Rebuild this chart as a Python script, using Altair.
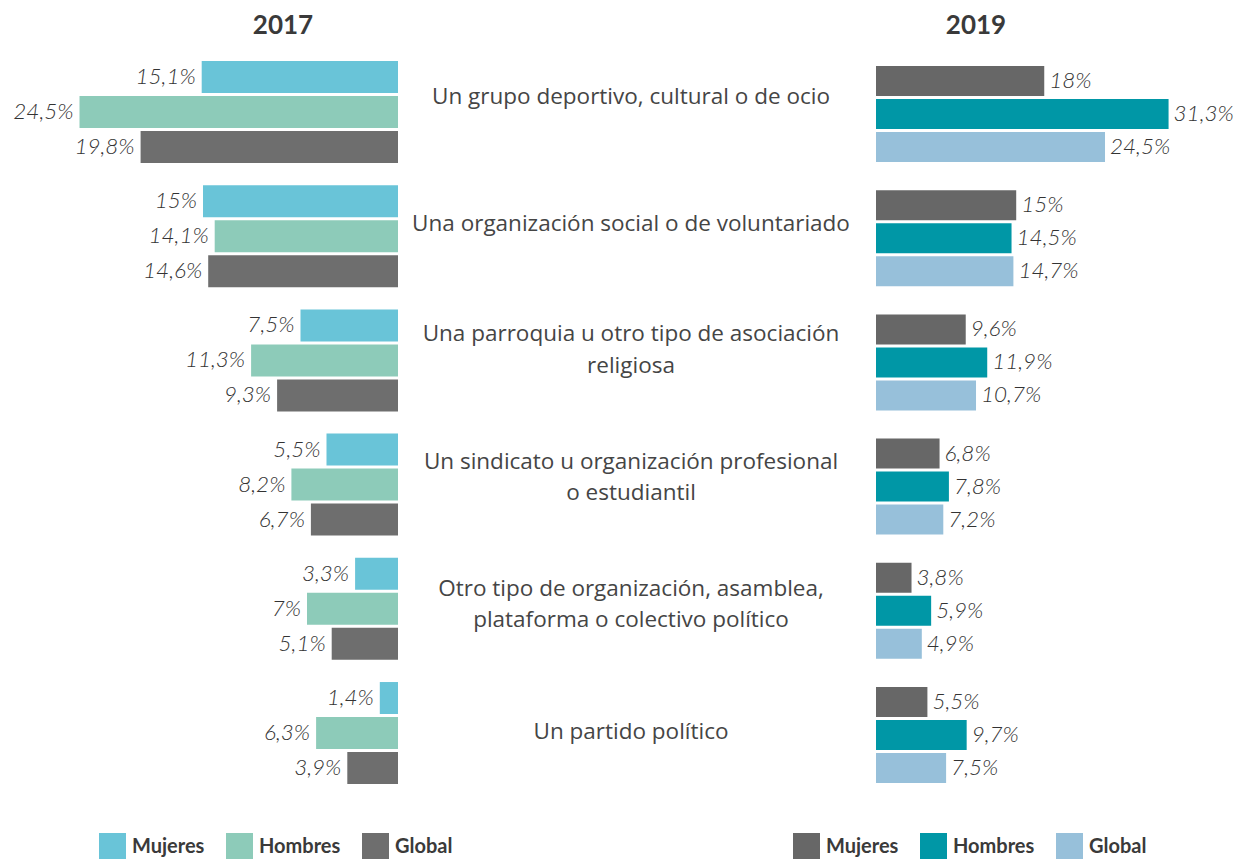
import altair as alt
import pandas as pd

categories = [
    "Un grupo deportivo, cultural o de ocio",
    "Una organización social o de voluntariado",
    "Una parroquia u otro tipo de asociación|religiosa",
    "Un sindicato u organización profesional|o estudiantil",
    "Otro tipo de organización, asamblea,|plataforma o colectivo político",
    "Un partido político",
]
series = ["Mujeres", "Hombres", "Global"]

y2017_mujeres = [15.1, 15.0, 7.5, 5.5, 3.3, 1.4]
y2017_hombres = [24.5, 14.1, 11.3, 8.2, 7.0, 6.3]
y2017_global = [19.8, 14.6, 9.3, 6.7, 5.1, 3.9]

y2019_mujeres = [18.0, 15.0, 9.6, 6.8, 3.8, 5.5]
y2019_hombres = [31.3, 14.5, 11.9, 7.8, 5.9, 9.7]
y2019_global = [24.5, 14.7, 10.7, 7.2, 4.9, 7.5]

colors_2017 = ["#69C4D8", "#8DCBB9", "#6E6E6E"]
colors_2019 = ["#676767", "#0097A6", "#97C0DA"]


def fmt(v):
    return f"{v:g}".replace(".", ",") + "%"


def build(m, h, g):
    rows = []
    for i, c in enumerate(categories):
        for s, vals in zip(series, [m, h, g]):
            rows.append({"cat": c, "series": s, "value": vals[i], "label": fmt(vals[i])})
    return pd.DataFrame(rows)


df17 = build(y2017_mujeres, y2017_hombres, y2017_global)
df19 = build(y2019_mujeres, y2019_hombres, y2019_global)
dfc = pd.DataFrame({"cat": categories})

FONT = "Lato"
CAT_FONT = "Open Sans"
H = 763

title_kw = dict(fontSize=26, fontWeight="bold", font=FONT, color="#3a3a3a", anchor="middle", offset=2)


def legend(x, y):
    return alt.Legend(
        orient="none", legendX=x, legendY=y, direction="horizontal", title=None,
        symbolType="square", symbolSize=729, symbolStrokeWidth=0,
        labelFont=FONT, labelFontSize=20, labelFontWeight="bold", labelColor="#3a3a3a",
        labelOffset=6, columnPadding=21, padding=0,
    )


val_kw = dict(baseline="middle", font=FONT, fontSize=22.5, fontStyle="italic", fontWeight=300, color="#333333")

# Left panel (2017)
y_l = alt.Y("cat:N", sort=categories, axis=None, scale=alt.Scale(paddingInner=0.179, paddingOuter=0.161))
yo_l = alt.YOffset("series:N", sort=series, scale=alt.Scale(paddingInner=0.086, paddingOuter=0))
x_l = alt.X("value:Q", axis=None, scale=alt.Scale(domain=[0, 30], reverse=True, nice=False))
base_l = alt.Chart(df17)
bars_l = base_l.mark_bar().encode(
    x=x_l, y=y_l, yOffset=yo_l,
    color=alt.Color("series:N", sort=series, scale=alt.Scale(domain=series, range=colors_2017),
                    legend=legend(91, 792)),
)
text_l = base_l.mark_text(align="right", dx=-6, **val_kw).encode(
    x=x_l, y=y_l, yOffset=yo_l, text="label:N")
left = (bars_l + text_l).properties(width=390, height=H,
                                    title=alt.TitleParams("2017", dx=80, **title_kw))

# Middle panel (labels)
y_m = alt.Y("cat:N", sort=categories, axis=None, scale=alt.Scale(paddingInner=0.179, paddingOuter=0.161))
cat_kw = dict(align="center", baseline="middle", font=CAT_FONT, fontSize=22.5, color="#454545",
              lineHeight=31.5, dx=-6)
base_m = alt.Chart(dfc).transform_calculate(
    lines="split(datum.cat, '|')", nlines="length(split(datum.cat, '|'))")
one_line = base_m.transform_filter("datum.nlines == 1").mark_text(dy=-8, **cat_kw).encode(
    y=y_m, text="lines:N")
two_lines = base_m.transform_filter("datum.nlines == 2").mark_text(dy=-24.5, **cat_kw).encode(
    y=y_m, text="lines:N")
mid = (one_line + two_lines).properties(width=478, height=H, title=alt.TitleParams(" ", **title_kw))

# Right panel (2019)
H_R = 767
y_r = alt.Y("cat:N", sort=categories, axis=None, scale=alt.Scale(paddingInner=0.227, paddingOuter=0.201))
yo_r = alt.YOffset("series:N", sort=series, scale=alt.Scale(paddingInner=0.0909, paddingOuter=0))
x_r = alt.X("value:Q", axis=None, scale=alt.Scale(domain=[0, 38.3], nice=False))
base_r = alt.Chart(df19)
bars_r = base_r.mark_bar().encode(
    x=x_r, y=y_r, yOffset=yo_r,
    color=alt.Color("series:N", sort=series, scale=alt.Scale(domain=series, range=colors_2019),
                    legend=legend(-83, 792)),
)
text_r = base_r.mark_text(align="left", dx=5, **val_kw).encode(
    x=x_r, y=y_r, yOffset=yo_r, text="label:N")
right = (bars_r + text_r).properties(width=358, height=H_R,
                                     title=alt.TitleParams("2019", dx=-79, **title_kw))

chart = alt.hconcat(left, mid, right, spacing=0, bounds="flush").resolve_scale(
    y="independent", yOffset="independent", color="independent", x="independent"
).properties(padding={"top": 5, "left": 0, "right": 0, "bottom": 0},
             background="white").configure_view(stroke=None)

chart.save("out.html", embed_options={"renderer": "svg", "actions": False})
